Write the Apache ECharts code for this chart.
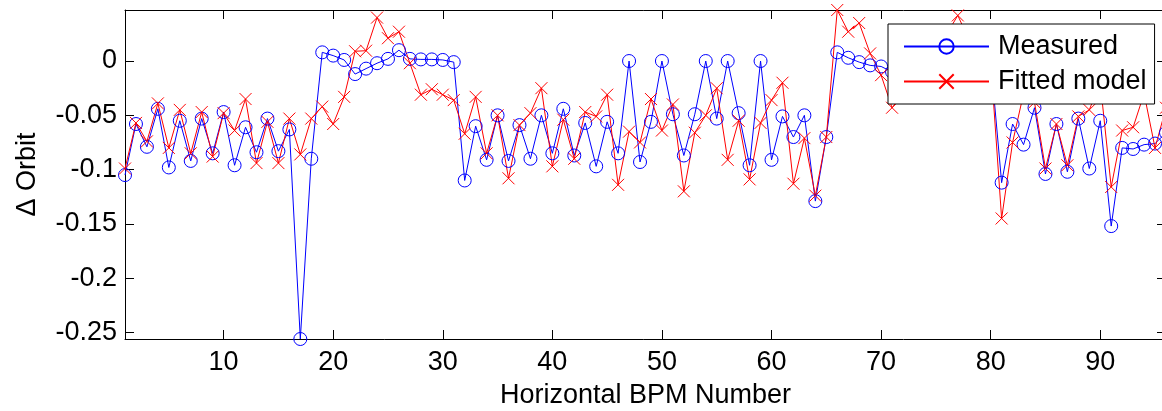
<!DOCTYPE html>
<html>
<head>
<meta charset="utf-8">
<script src="https://cdn.jsdelivr.net/npm/echarts@6/dist/echarts.min.js"></script>
<style>
  html, body { margin: 0; padding: 0; background: #fff; }
  #chart { width: 1162px; height: 411px; }
</style>
</head>
<body>
<div id="chart"></div>
<script>
// BPM index (1..96)
const bpmNumbers = Array.from({ length: 96 }, (_, i) => i + 1);

const measured = [
  -0.105, -0.058, -0.079, -0.044, -0.098, -0.055, -0.092, -0.053, -0.085, -0.047,
  -0.096, -0.061, -0.084, -0.053, -0.083, -0.063, -0.256, -0.090, 0.008, 0.005,
  0.001, -0.012, -0.007, -0.002, 0.002, 0.010, 0.002, 0.0015, 0.0015, 0.001,
  -0.001, -0.110, -0.060, -0.091, -0.050, -0.092, -0.059, -0.090, -0.050, -0.085,
  -0.044, -0.087, -0.057, -0.097, -0.056, -0.085, 0.000, -0.093, -0.056, 0.000,
  -0.049, -0.087, -0.049, 0.000, -0.053, 0.000, -0.048, -0.096, 0.000, -0.091,
  -0.051, -0.070, -0.050, -0.129, -0.070, 0.008, 0.003, -0.001, -0.004, -0.005,
  -0.010, -0.015, -0.012, -0.010, -0.008, -0.006, -0.004, -0.002, 0.000, 0.001,
  -0.112, -0.058, -0.077, -0.043, -0.104, -0.058, -0.102, -0.053, -0.099, -0.055,
  -0.152, -0.080, -0.081, -0.077, -0.076, -0.066
];

const fitted = [
  -0.099, -0.057, -0.074, -0.039, -0.080, -0.045, -0.085, -0.047, -0.088, -0.048,
  -0.064, -0.035, -0.094, -0.056, -0.094, -0.053, -0.086, -0.053, -0.042, -0.058,
  -0.033, 0.009, 0.0095, 0.040, 0.021, 0.027, -0.002, -0.031, -0.026, -0.031,
  -0.036, -0.067, -0.033, -0.085, -0.050, -0.108, -0.059, -0.048, -0.025, -0.097,
  -0.054, -0.090, -0.047, -0.051, -0.031, -0.114, -0.065, -0.075, -0.035, -0.064,
  -0.040, -0.120, -0.066, -0.050, -0.025, -0.091, -0.055, -0.109, -0.057, -0.036,
  -0.020, -0.113, -0.071, -0.124, -0.070, 0.047, 0.027, 0.035, 0.007, -0.013,
  -0.043, -0.030, -0.010, 0.005, 0.015, 0.025, 0.042, 0.020, 0.010, 0.000,
  -0.145, -0.075, -0.030, -0.038, -0.099, -0.058, -0.096, -0.051, -0.045, -0.020,
  -0.116, -0.064, -0.061, -0.030, -0.080, -0.043
];

const xTicks = [10, 20, 30, 40, 50, 60, 70, 80, 90];
const yTicks = [0, -0.05, -0.1, -0.15, -0.2, -0.25];

const FONT = "'Liberation Sans', Arial, sans-serif";
const X_MIN = 1, X_MAX = 96;
const Y_MIN = -0.256, Y_MAX = 0.047;

const chart = echarts.init(document.getElementById('chart'), null, { renderer: 'canvas' });

function xAxisDef(pos, main) {
  return {
    type: 'value', position: pos, min: X_MIN, max: X_MAX,
    axisLine: { show: true, onZero: false, lineStyle: { color: '#000', width: 1 } },
    axisTick: { show: true, inside: true, length: 9, customValues: xTicks, lineStyle: { color: '#000', width: 1 } },
    axisLabel: { show: main, customValues: xTicks, fontSize: 27, fontFamily: FONT, color: '#000', margin: 10 },
    splitLine: { show: false },
    name: main ? 'Horizontal BPM Number' : '',
    nameLocation: 'middle', nameGap: 43,
    nameTextStyle: { fontSize: 27, fontFamily: FONT, color: '#000' }
  };
}
function yAxisDef(pos, main) {
  return {
    type: 'value', position: pos, min: Y_MIN, max: Y_MAX,
    axisLine: { show: true, onZero: false, lineStyle: { color: '#000', width: 1 } },
    axisTick: { show: true, inside: true, length: 9, customValues: yTicks, lineStyle: { color: '#000', width: 1 } },
    axisLabel: {
      show: main, customValues: yTicks, fontSize: 27, fontFamily: FONT, color: '#000', margin: 8,
      formatter: v => String(+(+v).toFixed(2))
    },
    splitLine: { show: false },
    name: main ? '\u0394 Orbit' : '',
    nameLocation: 'middle', nameGap: 84,
    nameTextStyle: { fontSize: 27, fontFamily: FONT, color: '#000' }
  };
}

const option = {
  animation: false,
  backgroundColor: '#fff',
  grid: { left: 125, top: 10, right: -4, bottom: 72, containLabel: false, outerBoundsMode: 'none' },
  xAxis: [xAxisDef('bottom', true), xAxisDef('top', false)],
  yAxis: [yAxisDef('left', true), yAxisDef('right', false)],
  legend: {
    orient: 'vertical', left: 888, top: 24,
    padding: [9, 8, 9, 15], itemGap: 8, itemWidth: 85, itemHeight: 18,
    backgroundColor: '#fff', borderColor: '#000', borderWidth: 1,
    textStyle: { fontSize: 27, fontFamily: FONT, color: '#000', padding: [0, 0, 0, 4] },
    data: ['Measured', 'Fitted model']
  },
  series: [
    {
      name: 'Measured', type: 'line', xAxisIndex: 0, yAxisIndex: 0,
      data: bpmNumbers.map((x, i) => [x, measured[i]]),
      symbol: 'circle', symbolSize: 13, showAllSymbol: true, clip: false,
      lineStyle: { color: '#0000ff', width: 1 },
      itemStyle: { color: 'rgba(0,0,0,0)', borderColor: '#0000ff', borderWidth: 1 },
      emphasis: { disabled: true }
    },
    {
      name: 'Fitted model', type: 'line', xAxisIndex: 0, yAxisIndex: 0,
      data: bpmNumbers.map((x, i) => [x, fitted[i]]),
      symbol: 'path://M0,0L10,10M0,10L10,0', symbolSize: 12, showAllSymbol: true, clip: false,
      lineStyle: { color: '#ff0000', width: 1 },
      itemStyle: { color: 'rgba(0,0,0,0)', borderColor: '#ff0000', borderWidth: 1 },
      emphasis: { disabled: true }
    }
  ]
};
chart.setOption(option);
</script>
</body>
</html>
